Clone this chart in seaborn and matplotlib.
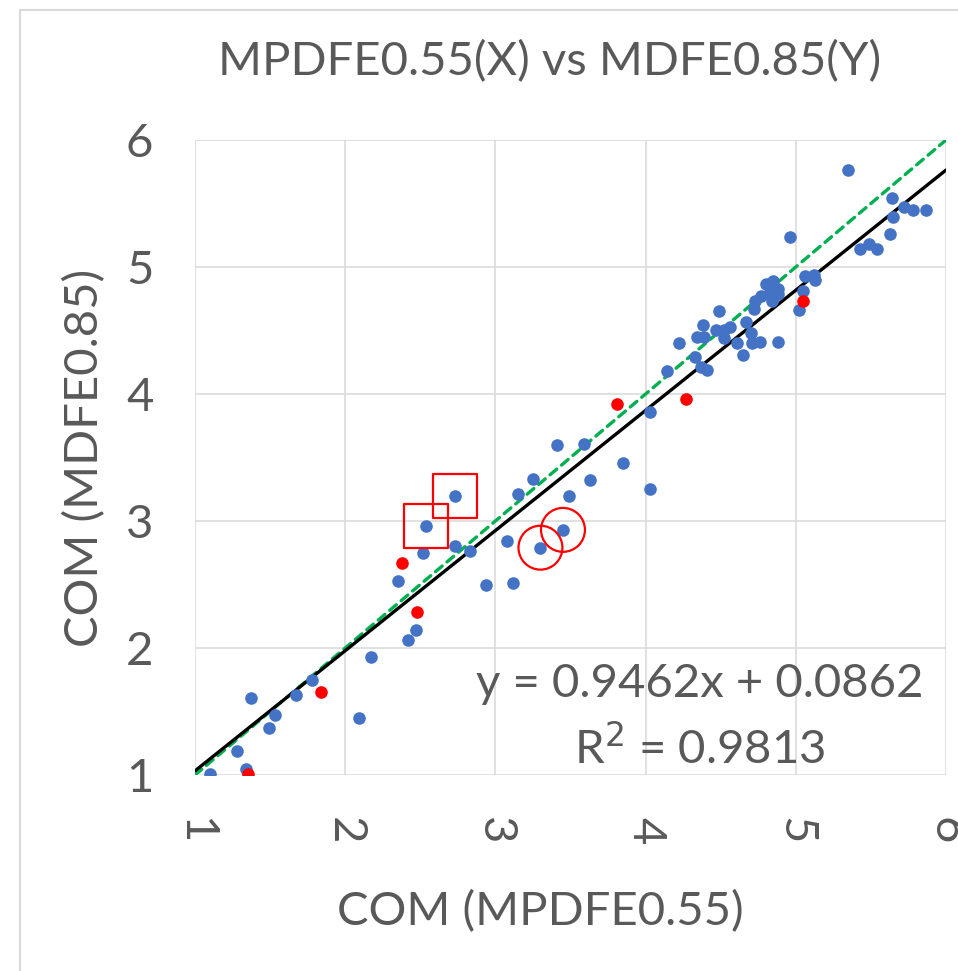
import matplotlib
matplotlib.use("Agg")
import matplotlib.pyplot as plt
import seaborn as sns
import numpy as np
import pandas as pd
from matplotlib.patches import Rectangle

# COM values, MPDFE0.55 (x) against MDFE0.85 (y)
blue_x = [1.10, 1.34, 1.28, 1.37, 1.49, 1.53, 1.67, 1.78, 2.09, 2.17,
          2.42, 2.47, 2.35, 2.52, 2.54, 2.73, 2.73, 2.83, 2.94, 3.08,
          3.12, 3.15, 3.25, 3.30, 3.45, 3.41, 3.49, 3.59, 3.63, 3.85,
          4.03, 4.03, 4.14, 4.22, 4.33, 4.37, 4.41, 4.34, 4.39, 4.38,
          4.49, 4.47, 4.52, 4.52, 4.56, 4.61, 4.65, 4.67, 4.70, 4.71,
          4.76, 4.72, 4.73, 4.77, 4.80, 4.85, 4.82, 4.88, 4.88, 4.84,
          4.88, 4.96, 5.02, 5.05, 5.06, 5.12, 5.13, 5.35, 5.43, 5.49,
          5.54, 5.63, 5.64, 5.65, 5.72, 5.78, 5.87]
blue_y = [1.01, 1.05, 1.19, 1.61, 1.37, 1.47, 1.63, 1.75, 1.45, 1.93,
          2.06, 2.14, 2.53, 2.75, 2.96, 3.20, 2.80, 2.76, 2.50, 2.84,
          2.51, 3.21, 3.33, 2.79, 2.93, 3.60, 3.20, 3.61, 3.32, 3.46,
          3.86, 3.25, 4.18, 4.40, 4.29, 4.21, 4.19, 4.45, 4.45, 4.54,
          4.65, 4.50, 4.50, 4.44, 4.53, 4.40, 4.31, 4.57, 4.48, 4.40,
          4.41, 4.67, 4.73, 4.77, 4.87, 4.89, 4.79, 4.83, 4.79, 4.73,
          4.41, 5.24, 4.66, 4.81, 4.93, 4.94, 4.90, 5.76, 5.14, 5.18,
          5.14, 5.26, 5.54, 5.39, 5.47, 5.45, 5.45]

red_x = [1.35, 1.84, 2.48, 2.38, 3.81, 4.27, 5.05]
red_y = [1.01, 1.65, 2.28, 2.67, 3.92, 3.96, 4.73]

# highlighted samples
square_x = [2.54, 2.73]
square_y = [2.96, 3.20]
circle_x = [3.30, 3.45]
circle_y = [2.79, 2.93]

# linear trend line and 1:1 reference
slope = 0.9462
intercept = 0.0862
r_squared = 0.9813
axis_ticks = [1, 2, 3, 4, 5, 6]

sns.set_theme(style="white")
plt.rcParams["font.family"] = ["Lato", "DejaVu Sans"]
text_color = "#595959"
grid_color = "#D9D9D9"
big = 34

W, H = 958, 971
fig = plt.figure(figsize=(W / 100, H / 100), dpi=100)
ax = fig.add_axes([195 / W, 1 - 775 / H, (946 - 195) / W, (775 - 140) / H])

# outer chart border
fig.patches.append(Rectangle((20 / W, -0.1), 1.2, 1 - 10 / H + 0.1,
                             transform=fig.transFigure, fill=False,
                             edgecolor=grid_color, linewidth=1.5))

ax.set_xlim(1, 6)
ax.set_ylim(1, 6)
ax.set_xticks(axis_ticks)
ax.set_yticks(axis_ticks)
ax.grid(True, color=grid_color, linewidth=1.1)
ax.set_axisbelow(True)
for s in ax.spines.values():
    s.set_visible(False)
ax.tick_params(length=0)

line_x = np.array([axis_ticks[0], axis_ticks[-1]], dtype=float)
sns.lineplot(x=line_x, y=line_x, ax=ax, color="#00B050", linewidth=2.4,
             linestyle=(0, (2.6, 1.9)), dash_capstyle="round", zorder=2)
sns.lineplot(x=line_x, y=slope * line_x + intercept, ax=ax, color="black",
             linewidth=2.4, zorder=3)

pts = pd.DataFrame({"x": blue_x, "y": blue_y})
sns.scatterplot(data=pts, x="x", y="y", ax=ax, color="#4472C4", s=82,
                linewidth=0, zorder=4)
red_pts = pd.DataFrame({"x": red_x, "y": red_y})
sns.scatterplot(data=red_pts, x="x", y="y", ax=ax, color="#FF0000", s=82,
                linewidth=0, zorder=5)

sns.scatterplot(x=square_x, y=square_y, ax=ax, marker="s", s=1000,
                facecolor="none", edgecolor="#FF0000", linewidth=1.6, zorder=6)
sns.scatterplot(x=circle_x, y=circle_y, ax=ax, marker="o", s=1000,
                facecolor="none", edgecolor="#FF0000", linewidth=1.6, zorder=6)
ax.set_xlabel("")
ax.set_ylabel("")

for lab in ax.get_yticklabels():
    lab.set_fontsize(big)
    lab.set_color(text_color)
ax.tick_params(axis="y", pad=30)
for lab in ax.get_xticklabels():
    lab.set_fontsize(big)
    lab.set_color(text_color)
    lab.set_rotation(-90)
ax.tick_params(axis="x", pad=30)

fig.text(540 / W, 1 - 912 / H, "COM (MPDFE0.55)", fontsize=big,
         color=text_color, ha="center", va="center")
fig.text(85 / W, 1 - 458 / H, "COM (MDFE0.85)", fontsize=big,
         color=text_color, ha="center", va="center", rotation=90)
fig.text(550 / W, 1 - 62 / H, "MPDFE0.55(X) vs MDFE0.85(Y)", fontsize=big,
         color=text_color, ha="center", va="center")

ax.text(4.36, 1.72, f"y = {slope:.4f}x + {intercept:.4f}", fontsize=big,
        color=text_color, ha="center", va="center", zorder=7)
ax.text(4.36, 1.21, f"R$^2$ = {r_squared:.4f}", fontsize=big,
        color=text_color, ha="center", va="center", zorder=7)

fig.savefig("out.png", dpi=100, facecolor="white")
